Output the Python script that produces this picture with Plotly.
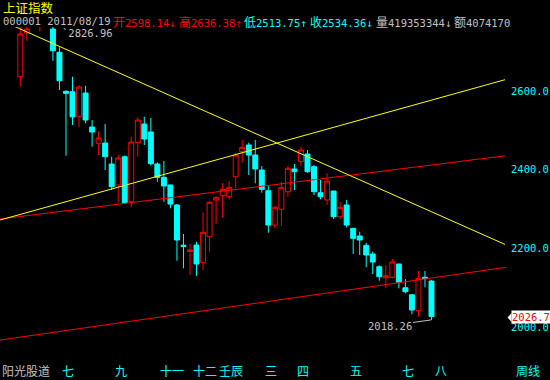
import plotly.graph_objects as go

# ---- data (weekly, 上证指数) ----
week_idx = list(range(64))
opens = [2636.4, 2747.5, 2764, 2797, 2820, 2757.7, 2698.5, 2599.2, 2598.14, 2534.7,
         2595.0, 2508.5, 2467.1, 2467.8, 2414.4, 2361.0, 2433.0, 2318.6, 2468.6, 2516.1,
         2495.8, 2414.4, 2380.6, 2361.0, 2310.2, 2208.0, 2192.0, 2208.5, 2163.5, 2229.6,
         2322.9, 2333.8, 2331.3, 2382.2, 2445.7, 2462.8, 2437.3, 2399.2, 2346.6, 2259.3,
         2299.3, 2344.0, 2401.7, 2420.3, 2439.9, 2407.6, 2341.5, 2322.9, 2345.8, 2280.4,
         2310.2, 2251.0, 2231.4, 2207.7, 2185.6, 2153.3, 2125.4, 2126.4, 2160.2, 2099.9,
         2082.1, 2041.4, 2126.5, 2117.0]
highs = [2768, 2775, 2806, 2823, 2826.96, 2775, 2711.2, 2602, 2636.38, 2615.3,
         2613.5, 2526.3, 2497.6, 2516.1, 2433.0, 2437.3, 2436.0, 2483.9, 2533.2, 2534.7,
         2531.4, 2418.8, 2422.1, 2362.0, 2312.7, 2236.5, 2211.0, 2216.9, 2291.6, 2321.1,
         2333.1, 2365.4, 2371.2, 2443.2, 2475.5, 2468.6, 2475.5, 2409.3, 2358.5, 2307.7,
         2369.5, 2409.3, 2414.4, 2458.4, 2450.0, 2411.9, 2373.8, 2390.8, 2346.5, 2318.6,
         2322.9, 2252.0, 2242.3, 2214.3, 2191.5, 2156.9, 2157.6, 2172.9, 2161.0, 2122.0,
         2083.0, 2142.4, 2142.4, 2119.5]
lows = [2611.0, 2728, 2770, 2751, 2772, 2677, 2602.6, 2435.5, 2513.75, 2507.8,
        2518.0, 2458.4, 2437.3, 2399.2, 2348.3, 2316.0, 2312.7, 2305.4, 2433.0, 2462.8,
        2410.1, 2369.4, 2318.6, 2301.8, 2168.6, 2149.3, 2132.2, 2130.4, 2144.9, 2191.5,
        2261.9, 2277.9, 2323.7, 2352.7, 2417.7, 2386.5, 2365.4, 2341.5, 2239.8, 2251.0,
        2256.8, 2331.3, 2348.3, 2409.4, 2392.3, 2335.6, 2324.7, 2310.2, 2274.6, 2273.8,
        2253.0, 2185.6, 2183.1, 2151.8, 2134.8, 2117.7, 2098.4, 2123.8, 2098.4, 2085.7,
        2032.3, 2026.2, 2101.0, 2018.26]
closes = [2745.0, 2757.7, 2797, 2820, 2777, 2702.5, 2626.3, 2594.1, 2534.36, 2610.2,
          2526.3, 2495.8, 2480.5, 2433.0, 2356.7, 2429.7, 2316.0, 2470.4, 2526.3, 2478.0,
          2415.2, 2380.6, 2358.5, 2312.7, 2221.2, 2205.0, 2196.0, 2160.2, 2240.8, 2317.1,
          2328.8, 2350.1, 2355.2, 2437.3, 2456.9, 2437.3, 2401.7, 2350.1, 2259.3, 2304.4,
          2355.2, 2403.5, 2394.9, 2450.0, 2394.9, 2344.0, 2331.3, 2371.2, 2280.4, 2304.4,
          2259.3, 2225.5, 2221.2, 2183.1, 2165.3, 2127.9, 2130.4, 2165.3, 2113.7, 2089.8,
          2043.2, 2123.8, 2123.0, 2026.69]

lunar_labels = ["七", "九", "十一", "十二", "壬辰", "三", "四", "五", "七", "八"]
lunar_idx = [6, 14, 21, 26, 30, 37, 42, 50, 58, 63]

price_ticks = [2000, 2200, 2400, 2600]
price_tick_text = ["2000.0", "2200.0", "2400.0", "2600.0"]

# trend lines (index, price) at the plot edges
trend_x = [-3.11, 74.26]
red_upper = [2274.6, 2435.3]
red_lower = [1966.9, 2151.5]
yellow_up = [2272.0, 2628.8]
yellow_down = [2780.6, 2210.0]

last_close = 2026.7
period_high = 2826.96
period_low = 2018.26

# ---- layout geometry ----
W, H = 550, 380
PL, PR, PT, PB = 0, 505, 27, 356
X_RANGE = [-3.11, 74.26]
Y_RANGE = [1926.3, 2762.8]

def pxx(x):
    return (x - PL) / (PR - PL)

def pyy(y):
    return (PB - y) / (PB - PT)

RED = "#FF0000"
CYAN = "#00FFFF"
GRAY = "#C0C0C0"
YEL = "#FFFF00"
MONO = "DejaVu Sans Mono, Noto Sans CJK SC, monospace"
CJK = "Noto Sans CJK SC"

fig = go.Figure()

fig.add_trace(go.Candlestick(
    x=week_idx, open=opens, high=highs, low=lows, close=closes,
    increasing=dict(line=dict(color=RED, width=1), fillcolor="#000000"),
    decreasing=dict(line=dict(color=CYAN, width=1), fillcolor=CYAN),
    whiskerwidth=0, hoverinfo="skip", showlegend=False,
))

for ys, col in [(red_upper, RED), (red_lower, RED), (yellow_up, YEL), (yellow_down, YEL)]:
    fig.add_trace(go.Scatter(x=trend_x, y=ys, mode="lines",
                             line=dict(color=col, width=1),
                             hoverinfo="skip", showlegend=False))

ann = []
# title
ann.append(dict(text="上证指数", x=pxx(1), y=pyy(8), xref="paper", yref="paper",
                xanchor="left", yanchor="middle", showarrow=False,
                font=dict(family=CJK, size=12.5, color=YEL)))

def cj(ch):
    return f'<span style="font-family:{CJK};font-size:12px">{ch}</span>'

header = [
    ("000001 2011/08/19", 1, GRAY),
    (cj("开") + "2598.14↓", 111, RED),
    (cj("高") + "2636.38↑", 177, RED),
    (cj("低") + "2513.75↑", 242, CYAN),
    (cj("收") + "2534.36↓", 308, CYAN),
    (cj("量") + "419353344↓", 374, GRAY),
    (cj("额") + "4074170", 452, GRAY),
]
for t, x, c in header:
    ann.append(dict(text=t, x=pxx(x), y=pyy(21.5), xref="paper", yref="paper",
                    xanchor="left", yanchor="middle", showarrow=False,
                    font=dict(family=MONO, size=10.5, color=c)))

# high label
ann.append(dict(text="`" + f"{period_high:.2f}", x=pxx(60), y=pyy(33), xref="paper", yref="paper",
                xanchor="left", yanchor="middle", showarrow=False,
                font=dict(family=MONO, size=10.5, color=GRAY)))
# low label
ann.append(dict(text=f"{period_low:.2f}", x=63, y=period_low, xref="x", yref="y",
                showarrow=True, arrowhead=0, arrowwidth=1, arrowcolor=GRAY,
                ax=-42, ay=6, standoff=0,
                font=dict(family=MONO, size=10.5, color=GRAY)))
# last price tag
ann.append(dict(text=f"{last_close:.1f}", x=pxx(511), y=last_close, xref="paper", yref="y",
                xanchor="left", yanchor="middle", showarrow=False, bgcolor="#FFFFFF",
                borderpad=0,
                font=dict(family=MONO, size=10.5, color=RED)))

# bottom labels
ann.append(dict(text="阳光股道", x=pxx(0), y=pyy(370.5), xref="paper", yref="paper",
                xanchor="left", yanchor="middle", showarrow=False,
                font=dict(family=CJK, size=12, color=GRAY)))
for lab, i in zip(lunar_labels, lunar_idx):
    ann.append(dict(text=lab, x=i, y=pyy(370.5), xref="x", yref="paper",
                    xanchor="left", yanchor="middle", xshift=1, showarrow=False,
                    font=dict(family=CJK, size=12, color=CYAN)))
ann.append(dict(text="周线", x=pxx(514), y=pyy(370.5), xref="paper", yref="paper",
                xanchor="left", yanchor="middle", showarrow=False,
                font=dict(family=CJK, size=12, color=CYAN)))

shapes = [dict(type="path", xref="paper", yref="paper",
               path=f"M {pxx(507.5)} {pyy(317.5)} L {pxx(511.5)} {pyy(313)} L {pxx(511.5)} {pyy(322)} Z",
               fillcolor="#FFFFFF", line=dict(width=0))]

fig.update_layout(
    width=W, height=H,
    margin=dict(l=PL, r=W - PR, t=PT, b=H - PB),
    paper_bgcolor="#000000", plot_bgcolor="#000000",
    showlegend=False,
    boxgap=0.2, boxgroupgap=0.05,
    annotations=ann, shapes=shapes,
    xaxis=dict(range=X_RANGE, visible=False, showgrid=False, zeroline=False,
               rangeslider=dict(visible=False), fixedrange=True),
    yaxis=dict(range=Y_RANGE, side="right", showgrid=False, zeroline=False,
               showline=False, ticks="", tickvals=price_ticks, ticktext=price_tick_text,
               tickfont=dict(family=MONO, size=10.5, color=CYAN),
               ticklabelstandoff=5, fixedrange=True),
)

fig.write_html("out.html", config={"displayModeBar": False},
               post_script="document.body.style.margin='0';document.body.style.background='#000';")
